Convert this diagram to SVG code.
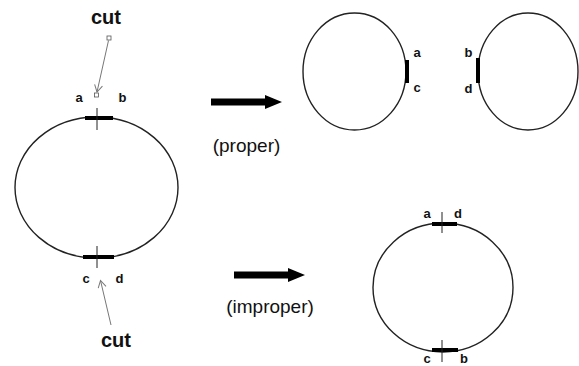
<svg xmlns="http://www.w3.org/2000/svg" width="579" height="366" viewBox="0 0 579 366">
<style>
.ring{fill:none;stroke:#222;stroke-width:1.4}
.bar{stroke:#000;stroke-width:4;stroke-linecap:butt}
.tick{stroke:#222;stroke-width:1}
.lbl{font-family:"Liberation Sans",Arial,sans-serif;font-weight:bold;font-size:13px;fill:#111}
.cut{font-family:"Liberation Sans",Arial,sans-serif;font-weight:bold;font-size:20px;fill:#111}
.cap{font-family:"Liberation Sans",Arial,sans-serif;font-size:19px;fill:#111}
.ptr{stroke:#777;stroke-width:1;fill:none}
.big{fill:#000}
</style>
<defs>
<marker id="v" markerWidth="10" markerHeight="10" refX="8" refY="5" orient="auto" markerUnits="userSpaceOnUse">
<path d="M1,1 L8,5 L1,9" fill="none" stroke="#777" stroke-width="1"/>
</marker>
</defs>
<g id="original">
<ellipse class="ring" cx="96.5" cy="187.5" rx="81.5" ry="70.5"/>
<line class="bar" x1="85" y1="118" x2="113" y2="118"/>
<line class="tick" x1="97" y1="108" x2="97" y2="130"/>
<line class="bar" x1="83" y1="257" x2="114" y2="257"/>
<line class="tick" x1="97" y1="246" x2="97" y2="268"/>
<text class="lbl" x="79" y="102" text-anchor="middle">a</text>
<text class="lbl" x="122.5" y="102" text-anchor="middle">b</text>
<text class="lbl" x="86" y="283" text-anchor="middle">c</text>
<text class="lbl" x="119.5" y="283" text-anchor="middle">d</text>
</g>
<g id="cut-top">
<text class="cut" x="106" y="24" text-anchor="middle">cut</text>
<rect x="107" y="36" width="4" height="4" fill="#fff" stroke="#555" stroke-width="0.8"/>
<rect x="94.5" y="93" width="4" height="4" fill="#fff" stroke="#555" stroke-width="0.8"/>
</g>
<g id="cut-bottom">
<text class="cut" x="116" y="347" text-anchor="middle">cut</text>
</g>
<g id="proper-left">
<ellipse class="ring" cx="354.5" cy="71.5" rx="51.5" ry="58.5"/>
<line class="bar" x1="407" y1="60" x2="407" y2="83"/>
<text class="lbl" x="417" y="57" text-anchor="middle">a</text>
<text class="lbl" x="417" y="92" text-anchor="middle">c</text>
</g>
<g id="proper-right">
<ellipse class="ring" cx="528" cy="71.5" rx="50" ry="58.5"/>
<line class="bar" x1="478" y1="58" x2="478" y2="83"/>
<text class="lbl" x="468.5" y="57" text-anchor="middle">b</text>
<text class="lbl" x="468.5" y="93" text-anchor="middle">d</text>
</g>
<g id="improper">
<ellipse class="ring" cx="443" cy="287.5" rx="70" ry="64.5"/>
<line class="bar" x1="432" y1="224" x2="457" y2="224"/>
<line class="tick" x1="442" y1="212" x2="442" y2="233"/>
<line class="bar" x1="432" y1="350" x2="458" y2="350"/>
<line class="tick" x1="442" y1="340" x2="442" y2="362"/>
<text class="lbl" x="427" y="218" text-anchor="middle">a</text>
<text class="lbl" x="458" y="218" text-anchor="middle">d</text>
<text class="lbl" x="427" y="362.5" text-anchor="middle">c</text>
<text class="lbl" x="464" y="362.5" text-anchor="middle">b</text>
</g>
<g id="labels">
<text class="cap" x="246.5" y="152" text-anchor="middle">(proper)</text>
<text class="cap" x="270" y="313" text-anchor="middle">(improper)</text>
</g>
<g id="connectors">
<line class="ptr" x1="108.5" y1="40.5" x2="97" y2="92" marker-end="url(#v)"/>
<line class="ptr" x1="111" y1="325" x2="100.5" y2="280.5" marker-end="url(#v)"/>
<path class="big" d="M211,98.5 L265,98.5 L265,95 L282,102 L265,109 L265,105.5 L211,105.5 Z"/>
<path class="big" d="M234,271.5 L288,271.5 L288,268 L305,275 L288,282 L288,278.5 L234,278.5 Z"/>
</g>
</svg>
